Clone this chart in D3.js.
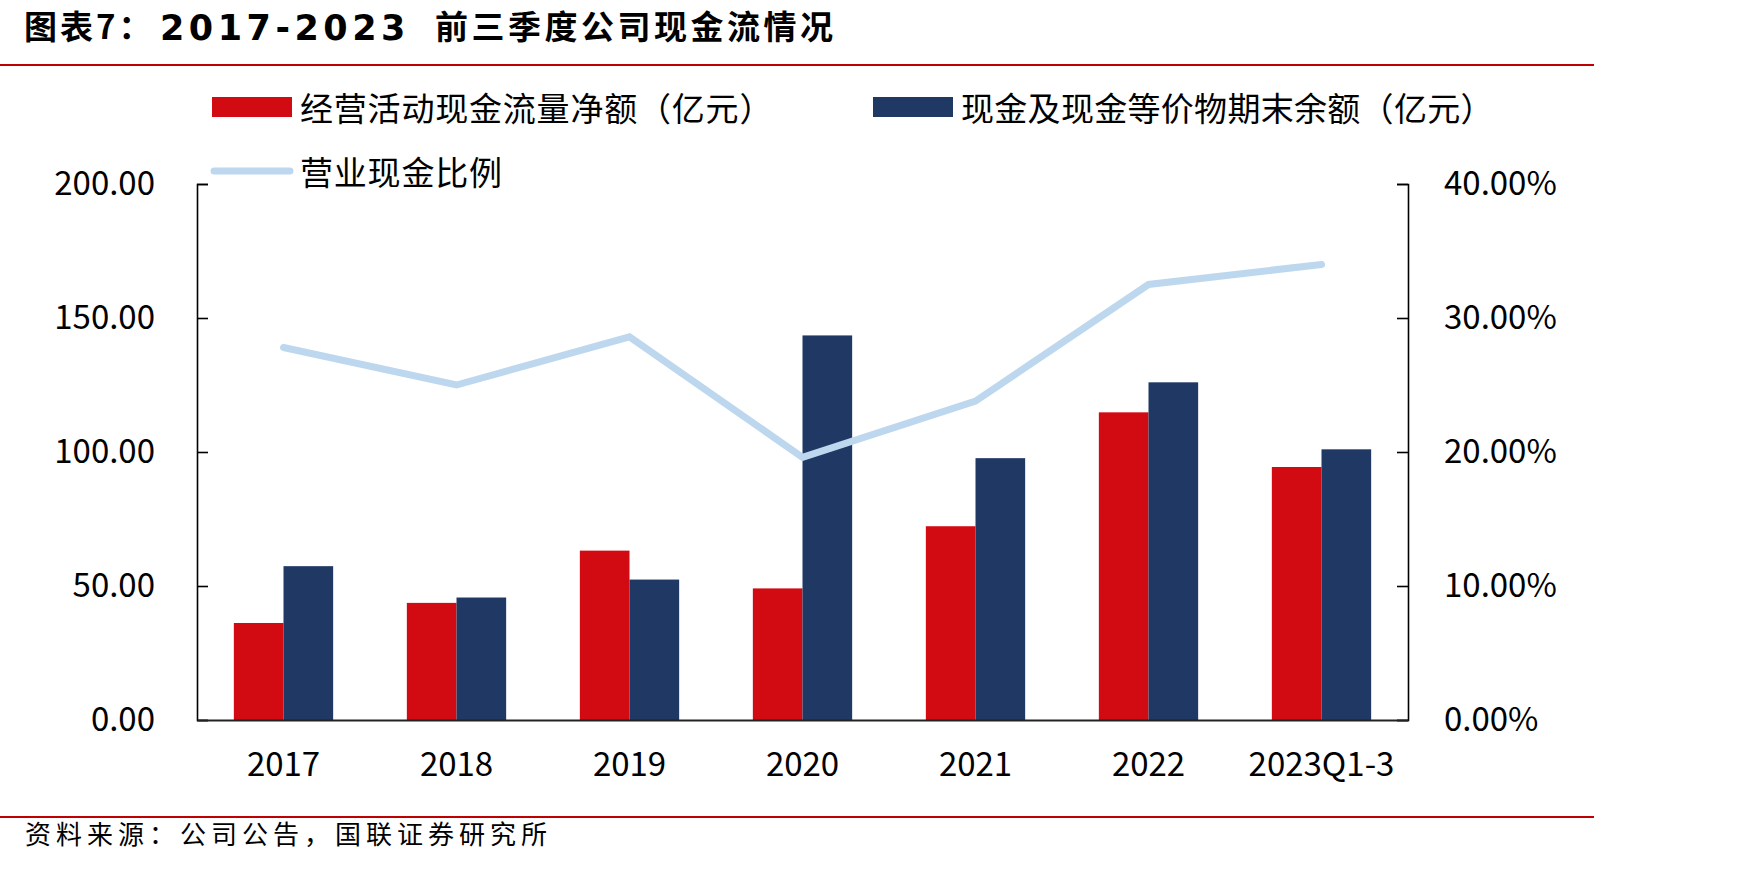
<!DOCTYPE html>
<html><head><meta charset="utf-8">
<script src="https://cdn.jsdelivr.net/npm/d3@7/dist/d3.min.js"></script>
<style>
html,body{margin:0;padding:0;background:#fff;}
svg text{font-family:"Noto Sans CJK SC","Noto Sans",sans-serif;}
</style></head>
<body><svg id="c" width="1748" height="870"></svg>
<script>
const categories = ["2017","2018","2019","2020","2021","2022","2023Q1-3"];
const operatingCF = [36.2, 43.7, 63.2, 49.1, 72.3, 114.8, 94.4];
const cashEnd = [57.4, 45.7, 52.4, 143.5, 97.7, 126.0, 101.0];
const cashRatio = [27.8, 25.0, 28.6, 19.6, 23.8, 32.5, 34.0];
const leftTicks = [0, 50, 100, 150, 200];
const rightTicks = [0, 10, 20, 30, 40];
const seriesNames = ["经营活动现金流量净额（亿元）","现金及现金等价物期末余额（亿元）","营业现金比例"];
const titleParts = ["图表7：", "2017-2023", "前三季度公司现金流情况"];
const source = "资料来源：公司公告，国联证券研究所";

const RED = "#D20A11", NAVY = "#203864", LBLUE = "#BDD7EE";
const svg = d3.select("#c");
const L = 197, R = 1408, T = 184, B = 720;

// title
svg.append("text").attr("x", 24).attr("y", 30).attr("font-size", 33).attr("font-weight", 700)
  .attr("letter-spacing", 3).attr("dominant-baseline", "middle").text(titleParts[0]);
svg.append("text").attr("x", 160).attr("y", 30).attr("font-size", 35).attr("font-weight", 700)
  .style("font-family", '"DejaVu Sans",sans-serif').attr("letter-spacing", 4.5)
  .attr("dominant-baseline", "middle").text(titleParts[1]);
svg.append("text").attr("x", 435).attr("y", 30).attr("font-size", 33).attr("font-weight", 700)
  .attr("letter-spacing", 3.5).attr("dominant-baseline", "middle").text(titleParts[2]);

svg.append("line").attr("x1", 0).attr("x2", 1594).attr("y1", 65).attr("y2", 65)
  .attr("stroke", "#C00000").attr("stroke-width", 2);
svg.append("line").attr("x1", 0).attr("x2", 1594).attr("y1", 817).attr("y2", 817)
  .attr("stroke", "#C00000").attr("stroke-width", 2);
svg.append("text").attr("x", 25).attr("y", 837).attr("font-size", 26).attr("letter-spacing", 5)
  .attr("dominant-baseline", "middle").attr("fill", "#000").text(source);

const x = d3.scaleBand().domain(categories).range([L, R]).padding(0);
const yL = d3.scaleLinear().domain([0, 200]).range([B, T]);
const yR = d3.scaleLinear().domain([0, 40]).range([B, T]);
const bw = x.bandwidth() * 0.287;

const g = svg.append("g");
g.selectAll(".r").data(operatingCF).join("rect")
  .attr("x", (d, i) => x(categories[i]) + x.bandwidth() / 2 - bw)
  .attr("y", d => yL(d)).attr("width", bw).attr("height", d => B - yL(d)).attr("fill", RED);
g.selectAll(".n").data(cashEnd).join("rect")
  .attr("x", (d, i) => x(categories[i]) + x.bandwidth() / 2)
  .attr("y", d => yL(d)).attr("width", bw).attr("height", d => B - yL(d)).attr("fill", NAVY);

// axes
const axL = svg.append("g").attr("transform", `translate(${L},0)`)
  .call(d3.axisLeft(yL).tickValues(leftTicks).tickSizeInner(-11).tickSizeOuter(-11).tickPadding(42).tickFormat(d3.format(".2f")));
const axR = svg.append("g").attr("transform", `translate(${R},0)`)
  .call(d3.axisRight(yR).tickValues(rightTicks).tickSizeInner(-11).tickSizeOuter(-11).tickPadding(36).tickFormat(d => d3.format(".2f")(d) + "%"));
[axL, axR].forEach(a => {
  a.select(".domain").attr("stroke", "#000").attr("stroke-width", 1.6);
  a.selectAll(".tick line").attr("stroke", "#000").attr("stroke-width", 1.6);
  a.selectAll("text").attr("font-size", 33).attr("fill", "#000");
});
const axB = svg.append("g").attr("transform", `translate(0,${B})`)
  .call(d3.axisBottom(x).tickSize(0).tickPadding(33));
axB.select(".domain").attr("stroke", "#222").attr("stroke-width", 2.2);
axB.selectAll("text").attr("font-size", 33).attr("fill", "#000");

// line
const line = d3.line().x((d, i) => x(categories[i]) + x.bandwidth() / 2).y(d => yR(d));
svg.append("path").datum(cashRatio).attr("d", line).attr("fill", "none")
  .attr("stroke", LBLUE).attr("stroke-width", 7).attr("stroke-linecap", "round").attr("stroke-linejoin", "miter");

// legend
const lg = svg.append("g");
lg.append("rect").attr("x", 212).attr("y", 97).attr("width", 80).attr("height", 20).attr("fill", RED);
lg.append("text").attr("x", 300).attr("y", 107).attr("font-size", 33).attr("letter-spacing", 0.8).attr("dominant-baseline", "central").text(seriesNames[0]);
lg.append("rect").attr("x", 873).attr("y", 97).attr("width", 80).attr("height", 20).attr("fill", NAVY);
lg.append("text").attr("x", 961).attr("y", 107).attr("font-size", 33).attr("letter-spacing", 0.3).attr("dominant-baseline", "central").text(seriesNames[1]);
lg.append("line").attr("x1", 214).attr("x2", 290).attr("y1", 171).attr("y2", 171)
  .attr("stroke", LBLUE).attr("stroke-width", 7).attr("stroke-linecap", "round");
lg.append("text").attr("x", 300).attr("y", 171).attr("font-size", 33).attr("letter-spacing", 0.8).attr("dominant-baseline", "central").text(seriesNames[2]);
</script></body></html>
